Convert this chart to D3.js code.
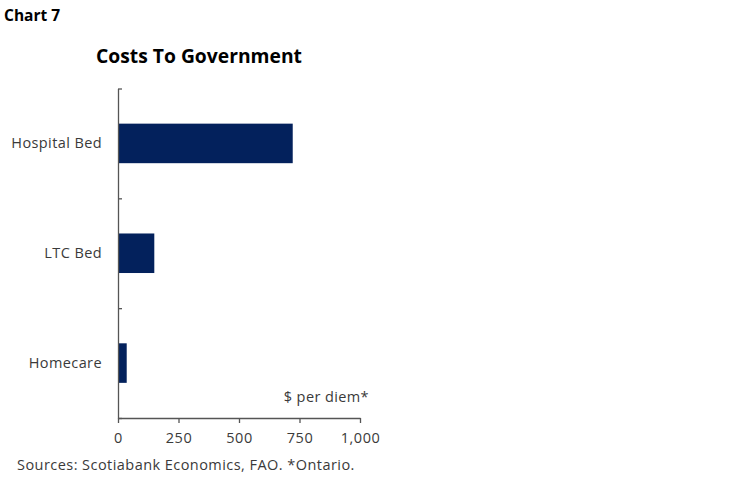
<!DOCTYPE html>
<html>
<head>
<meta charset="utf-8">
<script src="https://cdn.jsdelivr.net/npm/d3@7"></script>
<style>
  body { margin: 0; background: #fff; }
  svg { display: block; }
</style>
</head>
<body>
<div id="chart"></div>
<script>
const categories = ['Hospital Bed', 'LTC Bed', 'Homecare']
const values = [722, 150, 36]
const xTicks = [0, 250, 500, 750, 1000]

const width = 750
const height = 483
const margin = { top: 88.5, left: 118, right: 390, bottom: 65 }
const innerW = width - margin.left - margin.right
const innerH = height - margin.top - margin.bottom

const labelFont = '"Open Sans", Lato, sans-serif'
const boldFont = '"Open Sans", "Noto Sans", sans-serif'
const textColor = '#3a3a3a'

let svg = d3
  .select('#chart')
  .append('svg')
  .attr('width', width)
  .attr('height', height)

svg
  .append('text')
  .attr('x', 4)
  .attr('y', 21)
  .attr('font-family', boldFont)
  .attr('font-weight', 'bold')
  .attr('font-size', '15.5px')
  .attr('fill', '#000')
  .text('Chart 7')

svg
  .append('text')
  .attr('x', 96)
  .attr('y', 63)
  .attr('font-family', boldFont)
  .attr('font-weight', 'bold')
  .attr('font-size', '19.3px')
  .attr('fill', '#000')
  .text('Costs To Government')

let g = svg.append('g').attr('transform', `translate(${margin.left}, ${margin.top})`)

let xScale = d3.scaleLinear().domain([0, 1000]).range([0, 242])
let yScale = d3
  .scaleBand()
  .domain(categories)
  .range([0, innerH])
  .paddingInner(0.64)
  .paddingOuter(0.32)

// bars
g
  .selectAll('.bar')
  .data(categories)
  .enter()
  .append('rect')
  .attr('class', 'bar')
  .attr('fill', '#03215c')
  .attr('x', xScale(0))
  .attr('y', d => yScale(d))
  .attr('width', (d, i) => xScale(values[i]) - xScale(0))
  .attr('height', yScale.bandwidth())

// x axis
let xAxis = g
  .append('g')
  .attr('transform', `translate(0, ${innerH})`)
  .call(
    d3
      .axisBottom(xScale)
      .tickValues(xTicks)
      .tickSize(5)
      .tickSizeOuter(0)
      .tickPadding(10)
      .tickFormat(d3.format(','))
  )

// y axis: ticks between categories, pointing inward
let yBounds = d3.range(categories.length + 1).map(i => (innerH / categories.length) * i)
let yAxisScale = d3.scaleLinear().domain([0, innerH]).range([0, innerH])
let yAxis = g
  .append('g')
  .call(
    d3
      .axisRight(yAxisScale)
      .tickValues(yBounds)
      .tickSize(4)
      .tickSizeOuter(0)
      .tickFormat('')
  )

;[xAxis, yAxis].forEach(ax => {
  ax.select('.domain').attr('stroke', '#555').attr('stroke-width', 1.3)
  ax.selectAll('.tick line').attr('stroke', '#555').attr('stroke-width', 1.3)
})

xAxis
  .selectAll('.tick text')
  .attr('font-family', labelFont)
  .attr('font-size', '14.5px')
  .attr('letter-spacing', '0.5px')
  .attr('fill', textColor)

// category labels
g
  .selectAll('.cat')
  .data(categories)
  .enter()
  .append('text')
  .attr('class', 'cat')
  .attr('x', -16)
  .attr('y', d => yScale(d) + yScale.bandwidth() / 2)
  .attr('dy', '0.35em')
  .attr('text-anchor', 'end')
  .attr('font-family', labelFont)
  .attr('font-size', '14.5px')
  .attr('letter-spacing', '0.4px')
  .attr('fill', textColor)
  .text(d => d)

g
  .append('text')
  .attr('x', xScale(1000) + 9)
  .attr('y', innerH - 16)
  .attr('text-anchor', 'end')
  .attr('font-family', labelFont)
  .attr('font-size', '14.5px')
  .attr('letter-spacing', '0.4px')
  .attr('fill', textColor)
  .text('$ per diem*')

svg
  .append('text')
  .attr('x', 17)
  .attr('y', 470)
  .attr('font-family', labelFont)
  .attr('font-size', '14.5px')
  .attr('letter-spacing', '0.45px')
  .attr('fill', textColor)
  .text('Sources: Scotiabank Economics, FAO. *Ontario.')
</script>
</body>
</html>
